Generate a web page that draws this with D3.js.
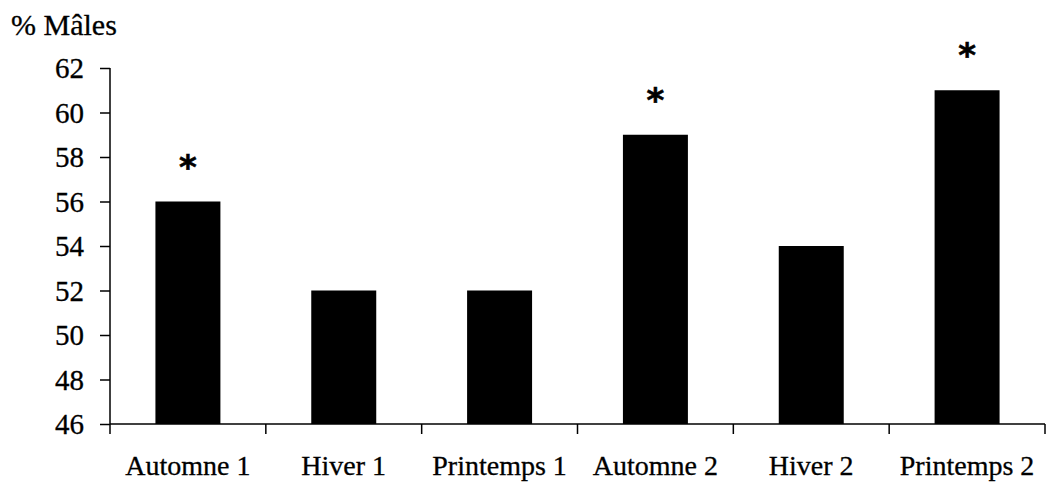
<!DOCTYPE html>
<html><head><meta charset="utf-8">
<script src="https://cdn.jsdelivr.net/npm/d3@7"></script>
<style>body{margin:0;background:#fff}svg{display:block}</style>
</head><body>
<svg id="c" width="1052" height="486"></svg>
<script>
const categories = ["Automne 1","Hiver 1","Printemps 1","Automne 2","Hiver 2","Printemps 2"];
const values = [56, 52, 52, 59, 54, 61];
const significant = [true, false, false, true, false, true];
const yTicks = [46,48,50,52,54,56,58,60,62];
const yLabel = "% Mâles";

const svg = d3.select("#c");
const m = {left:110, right:1045, top:68, bottom:424};
const x = d3.scaleBand().domain(categories).range([m.left, m.right]).paddingInner(0.583).paddingOuter(0.2915);
const y = d3.scaleLinear().domain([46,62]).range([m.bottom, m.top]);
const font = "'Liberation Serif','Times New Roman',serif";

// bars
svg.append("g").selectAll("rect").data(values).join("rect")
  .attr("x",(d,i)=>x(categories[i])).attr("width",x.bandwidth())
  .attr("y",d=>y(d)).attr("height",d=>y(46)-y(d)).attr("fill","#000");

// y axis
const ya = svg.append("g").attr("transform",`translate(${m.left},0)`)
  .call(d3.axisLeft(y).tickValues(yTicks).tickSize(10).tickPadding(16).tickFormat(d3.format("d")));
ya.selectAll("text").attr("font-family",font).attr("font-size",29).attr("fill","#000").attr("dy","0.34em")
  .attr("stroke","#000").attr("stroke-width",0.3);
ya.selectAll("line,path").attr("stroke","#000").attr("stroke-width",1.5);
ya.select("path").attr("d",`M0,${m.top}V${m.bottom}`);

// x axis with ticks at band boundaries
const xa = svg.append("g").attr("transform",`translate(0,${m.bottom})`);
xa.append("line").attr("x1",m.left).attr("x2",m.right).attr("stroke","#000").attr("stroke-width",1.5);
const step = x.step();
const bounds = d3.range(categories.length+1).map(i=>m.left + i*step);
xa.selectAll("line.t").data(bounds).join("line").attr("class","t")
  .attr("x1",d=>d).attr("x2",d=>d).attr("y1",0).attr("y2",10).attr("stroke","#000").attr("stroke-width",1.5);
xa.selectAll("text").data(categories).join("text")
  .attr("x",d=>x(d)+x.bandwidth()/2).attr("y",51).attr("text-anchor","middle")
  .attr("font-family",font).attr("font-size",28).attr("fill","#000")
  .attr("stroke","#000").attr("stroke-width",0.3).text(d=>d);

// asterisks
svg.append("g").selectAll("text").data(values.map((v,i)=>({v,i})).filter(d=>significant[d.i])).join("text")
  .attr("x",d=>x(categories[d.i])+x.bandwidth()/2).attr("y",d=>y(d.v)-23)
  .attr("text-anchor","middle").attr("font-family","'DejaVu Sans',sans-serif").attr("font-weight","bold")
  .attr("font-size",34).attr("fill","#000").attr("stroke","#000").attr("stroke-width",0.6).text("*");

// y label
svg.append("text").attr("x",11).attr("y",35).attr("font-family",font).attr("font-size",30).attr("fill","#000")
  .attr("stroke","#000").attr("stroke-width",0.3).text(yLabel);
</script>
</body></html>
